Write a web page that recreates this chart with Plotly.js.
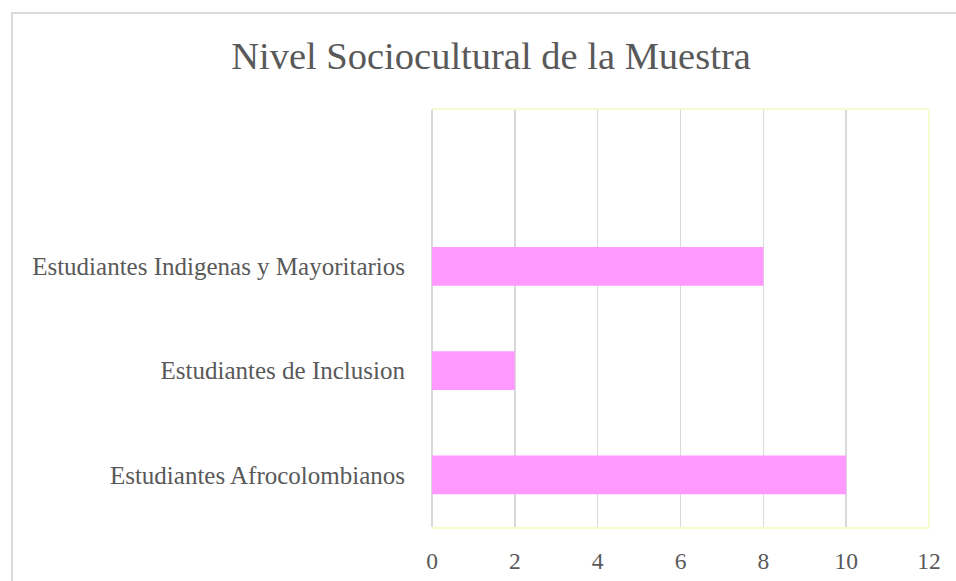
<!DOCTYPE html>
<html>
<head>
<meta charset="utf-8">
<script src="https://cdn.plot.ly/plotly-3.0.1.min.js"></script>
<style>
  html, body { margin: 0; padding: 0; background: #fff; overflow: hidden; }
  #frame { position: absolute; left: 11px; top: 12px; width: 1000px; height: 700px; border: 2px solid #DADADA; box-sizing: border-box; }
  #chart { position: absolute; left: 0; top: 0; width: 956px; height: 581px; }
</style>
</head>
<body>
<div id="frame"></div>
<div id="chart"></div>
<script>
const categories = ["Estudiantes Afrocolombianos", "Estudiantes de Inclusion", "Estudiantes Indigenas y Mayoritarios"];
const values = [10, 2, 8];
const xTicks = [0, 2, 4, 6, 8, 10, 12];
const chartTitle = "Nivel Sociocultural de la Muestra";

const fontFam = "Liberation Serif, DejaVu Serif, serif";
const textColor = "#595959";

const trace = {
  type: "bar",
  orientation: "h",
  x: values,
  y: categories,
  marker: { color: "#FF99FF" },
  width: 0.37,
  hoverinfo: "x+y"
};

const layout = {
  width: 956,
  height: 581,
  margin: { l: 432, r: 27, t: 110, b: 54 },
  paper_bgcolor: "rgba(0,0,0,0)",
  plot_bgcolor: "rgba(0,0,0,0)",
  showlegend: false,
  title: {
    text: chartTitle,
    font: { family: fontFam, size: 38.5, color: textColor },
    x: 491 / 956, xref: "container", xanchor: "center",
    y: 1 - 56 / 581, yref: "container", yanchor: "middle"
  },
  xaxis: {
    range: [0, 12],
    tickvals: xTicks,
    ticktext: xTicks.map(String),
    showgrid: true,
    gridcolor: "#D9D9D9",
    gridwidth: 1.5,
    zeroline: true,
    zerolinecolor: "#D9D9D9",
    zerolinewidth: 1.5,
    showline: true,
    linecolor: "#F8FAD0",
    linewidth: 2,
    mirror: true,
    ticks: "",
    ticklabelstandoff: 12,
    tickfont: { family: fontFam, size: 23.5, color: textColor },
    fixedrange: true
  },
  yaxis: {
    type: "category",
    categoryorder: "array",
    categoryarray: categories,
    range: [-0.5, 3.5],
    showgrid: false,
    zeroline: false,
    showline: false,
    ticks: "",
    ticklabelstandoff: 26,
    tickfont: { family: fontFam, size: 25, color: textColor },
    fixedrange: true
  },
  shapes: [
    { type: "line", xref: "paper", yref: "paper", x0: 1, x1: 1, y0: 0, y1: 1,
      line: { color: "#F8FAD0", width: 2 } }
  ]
};

Plotly.newPlot("chart", [trace], layout, { displayModeBar: false, staticPlot: true });
</script>
</body>
</html>
